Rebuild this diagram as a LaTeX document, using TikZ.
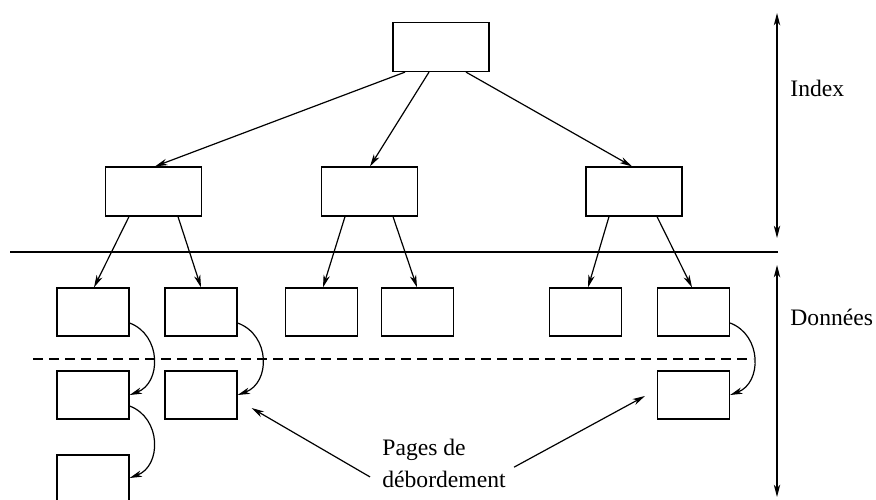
\documentclass[tikz,border=0pt]{standalone}
\usepackage{fontspec}
\setmainfont{Liberation Serif}
\usetikzlibrary{arrows.meta,calc}
\begin{document}
\begin{tikzpicture}[x=0.5pt,y=-0.5pt,
  bigbox/.style={draw,line width=0.6pt,minimum width=48pt,minimum height=24.5pt,inner sep=0},
  pagebox/.style={draw,line width=0.6pt,minimum width=36pt,minimum height=24pt,inner sep=0},
  tip/.style={},
  arr/.style={line width=0.6pt,-{Stealth[length=6.2pt,width=3.2pt,inset=1.8pt]}},
  darr/.style={line width=0.6pt,{Stealth[length=6.2pt,width=3.2pt,inset=1.8pt]}-{Stealth[length=6.2pt,width=3.2pt,inset=1.8pt]}},
  lbl/.style={font=\fontsize{11.8}{14}\selectfont,inner sep=0}]
\useasboundingbox (0,0) rectangle (876,499);
\clip (0,0) rectangle (876,499);
% index nodes
\node[bigbox] (r) at (441,47) {};
\node[bigbox] (a) at (153.5,191.5) {};
\node[bigbox] (b) at (369.5,191.5) {};
\node[bigbox] (c) at (634,191.5) {};
% data pages
\node[pagebox] (p1) at (93,312) {};
\node[pagebox] (p2) at (201,312) {};
\node[pagebox] (p3) at (321.5,312) {};
\node[pagebox] (p4) at (417.5,312) {};
\node[pagebox] (p5) at (585.5,312) {};
\node[pagebox] (p6) at (693.5,312) {};
% overflow pages
\node[pagebox] (q1) at (93,395) {};
\node[pagebox] (q2) at (201,395) {};
\node[pagebox] (q6) at (693.5,395) {};
\node[pagebox] (s1) at (93,479) {};
% tree arrows
\draw[arr] ($(r.south)+(-36,0)$) -- ($(a.north)+(1.5,0)$);
\draw[arr] ($(r.south)+(-12,0)$) -- ($(b.north)+(0.5,0)$);
\draw[arr] ($(r.south)+(25,0)$) -- ($(c.north)+(-2,0)$);
\draw[arr] ($(a.south)+(-24.5,0)$) -- ($(p1.north)+(1,0)$);
\draw[arr] ($(a.south)+(24.5,0)$) -- ($(p2.north)+(0,0)$);
\draw[arr] ($(b.south)+(-24.5,0)$) -- ($(p3.north)+(1.5,0)$);
\draw[arr] ($(b.south)+(23.5,0)$) -- ($(p4.north)+(-0.5,0)$);
\draw[arr] ($(c.south)+(-25,0)$) -- ($(p5.north)+(2.5,0)$);
\draw[arr] ($(c.south)+(23,0)$) -- ($(p6.north)+(-1.5,0)$);
% overflow chains
\draw[arr] ($(p1.east)+(0,11)$) .. controls +(32,12) and +(32,-12) .. (q1.east);
\draw[arr] ($(q1.east)+(0,11)$) .. controls +(32,12) and +(32,-12) .. ($(s1.east)+(0,-1)$);
\draw[arr] ($(p2.east)+(0,11)$) .. controls +(33,12) and +(33,-12) .. (q2.east);
\draw[arr] ($(p6.east)+(0,11)$) .. controls +(32,12) and +(32,-12) .. (q6.east);
% separators
\draw[line width=0.6pt] (10,252) -- (778,252);
\draw[line width=0.6pt,dash pattern=on 5pt off 3pt] (33,359) -- (753,359);
% side arrows
\draw[darr] (777,13) -- (777,238);
\draw[darr] (777,265) -- (777,497);
\node[lbl,anchor=west] (ix) at (790,88) {Index};
\node[lbl,anchor=west] (dn) at (790,317) {Données};
% label
\node[lbl,anchor=base west] (pg1) at (382,455) {Pages de};
\node[lbl,anchor=base west] (pg2) at (382,487) {débordement};
\draw[arr] ($(pg2.west)+(-12,-2)$) -- ($(q2.east)+(14,13)$);
\draw[arr] ($(pg2.north east)+(8,-3)$) -- ($(q6.west)+(-12,1)$);
\end{tikzpicture}
\end{document}
